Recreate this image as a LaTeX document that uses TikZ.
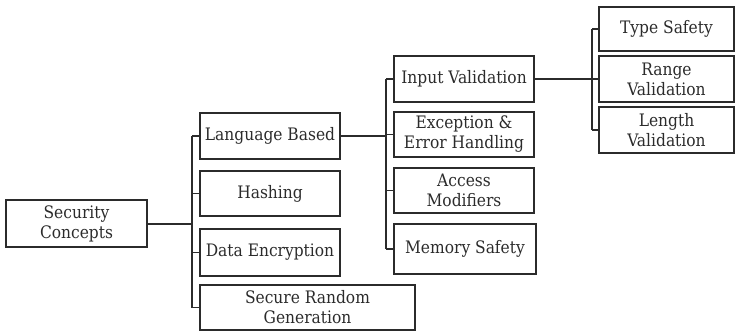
\documentclass[tikz,border=0pt]{standalone}
\usepackage{fontspec}
\setmainfont{DejaVu Serif Condensed}
\usepackage{tikz}
\usetikzlibrary{positioning,calc}
\definecolor{ink}{HTML}{2B2B2B}

\tikzset{
    box/.style = {draw=ink, line width=1.2pt, text=ink, align=center, inner sep=0pt,
                  minimum width=140, minimum height=46, font=\fontsize{17.2}{20}\selectfont},
    link/.style = {draw=ink, line width=1.2pt},
    trunk/.style = {draw=ink, line width=2pt}
}

\begin{document}
\begin{tikzpicture}[x = 1pt, y = -1pt]
    \useasboundingbox (0,0) rectangle (735,331);
    \node[box, minimum width=141, minimum height=47] (security) at (76.5,223.5) {Security\\Concepts};
    %%%%%%%%%%
    \node[box] (language) at (270,136) {Language Based};
    \node[box, minimum height=45] (hashing) at (270,193.5) {Hashing};
    \node[box, minimum height=47] (encryption) at (270,252.5) {Data Encryption};
    \node[box, minimum width=215, minimum height=45] (random) at (307.5,307.5) {Secure Random\\Generation};
    %%%%%%%%%%
    \node[box] (input) at (464,79) {Input Validation};
    \node[box, minimum height=45] (exception) at (464,134.5) {Exception \&\\Error Handling};
    \node[box, minimum height=45] (access) at (464,190.5) {Access\\Modifiers};
    \node[box, minimum width=142, minimum height=50] (memory) at (465,249) {Memory Safety};
    %%%%%%%%%%
    \node[box, minimum width=135, minimum height=44] (type) at (666.5,29) {Type Safety};
    \node[box, minimum width=135] (range) at (666.5,79) {Range\\Validation};
    \node[box, minimum width=135] (length) at (666.5,130) {Length\\Validation};
    %%%%%%%%%%
    \coordinate (busA) at (192,223.5);
    \coordinate (busB) at (386,136);
    \coordinate (busC) at (592,79);
    %%%%%%%%%%
    \draw[trunk] (security.east) -- (busA);
    \draw[link] (busA |- language.west) -- (busA |- random.west);
    \foreach \n in {language, hashing, encryption, random}
        \draw[link] (\n.west) -- (busA |- \n.west);
    \draw[trunk] (language.east) -- (busB);
    \draw[link] (busB |- input.west) -- (busB |- memory.west);
    \foreach \n in {input, exception, access, memory}
        \draw[link] (\n.west) -- (busB |- \n.west);
    \draw[trunk, line width=2.5pt] (input.east) -- (busC);
    \draw[link] (busC |- type.west) -- (busC |- length.west);
    \foreach \n in {type, range, length}
        \draw[link] (\n.west) -- (busC |- \n.west);
\end{tikzpicture}
\end{document}
